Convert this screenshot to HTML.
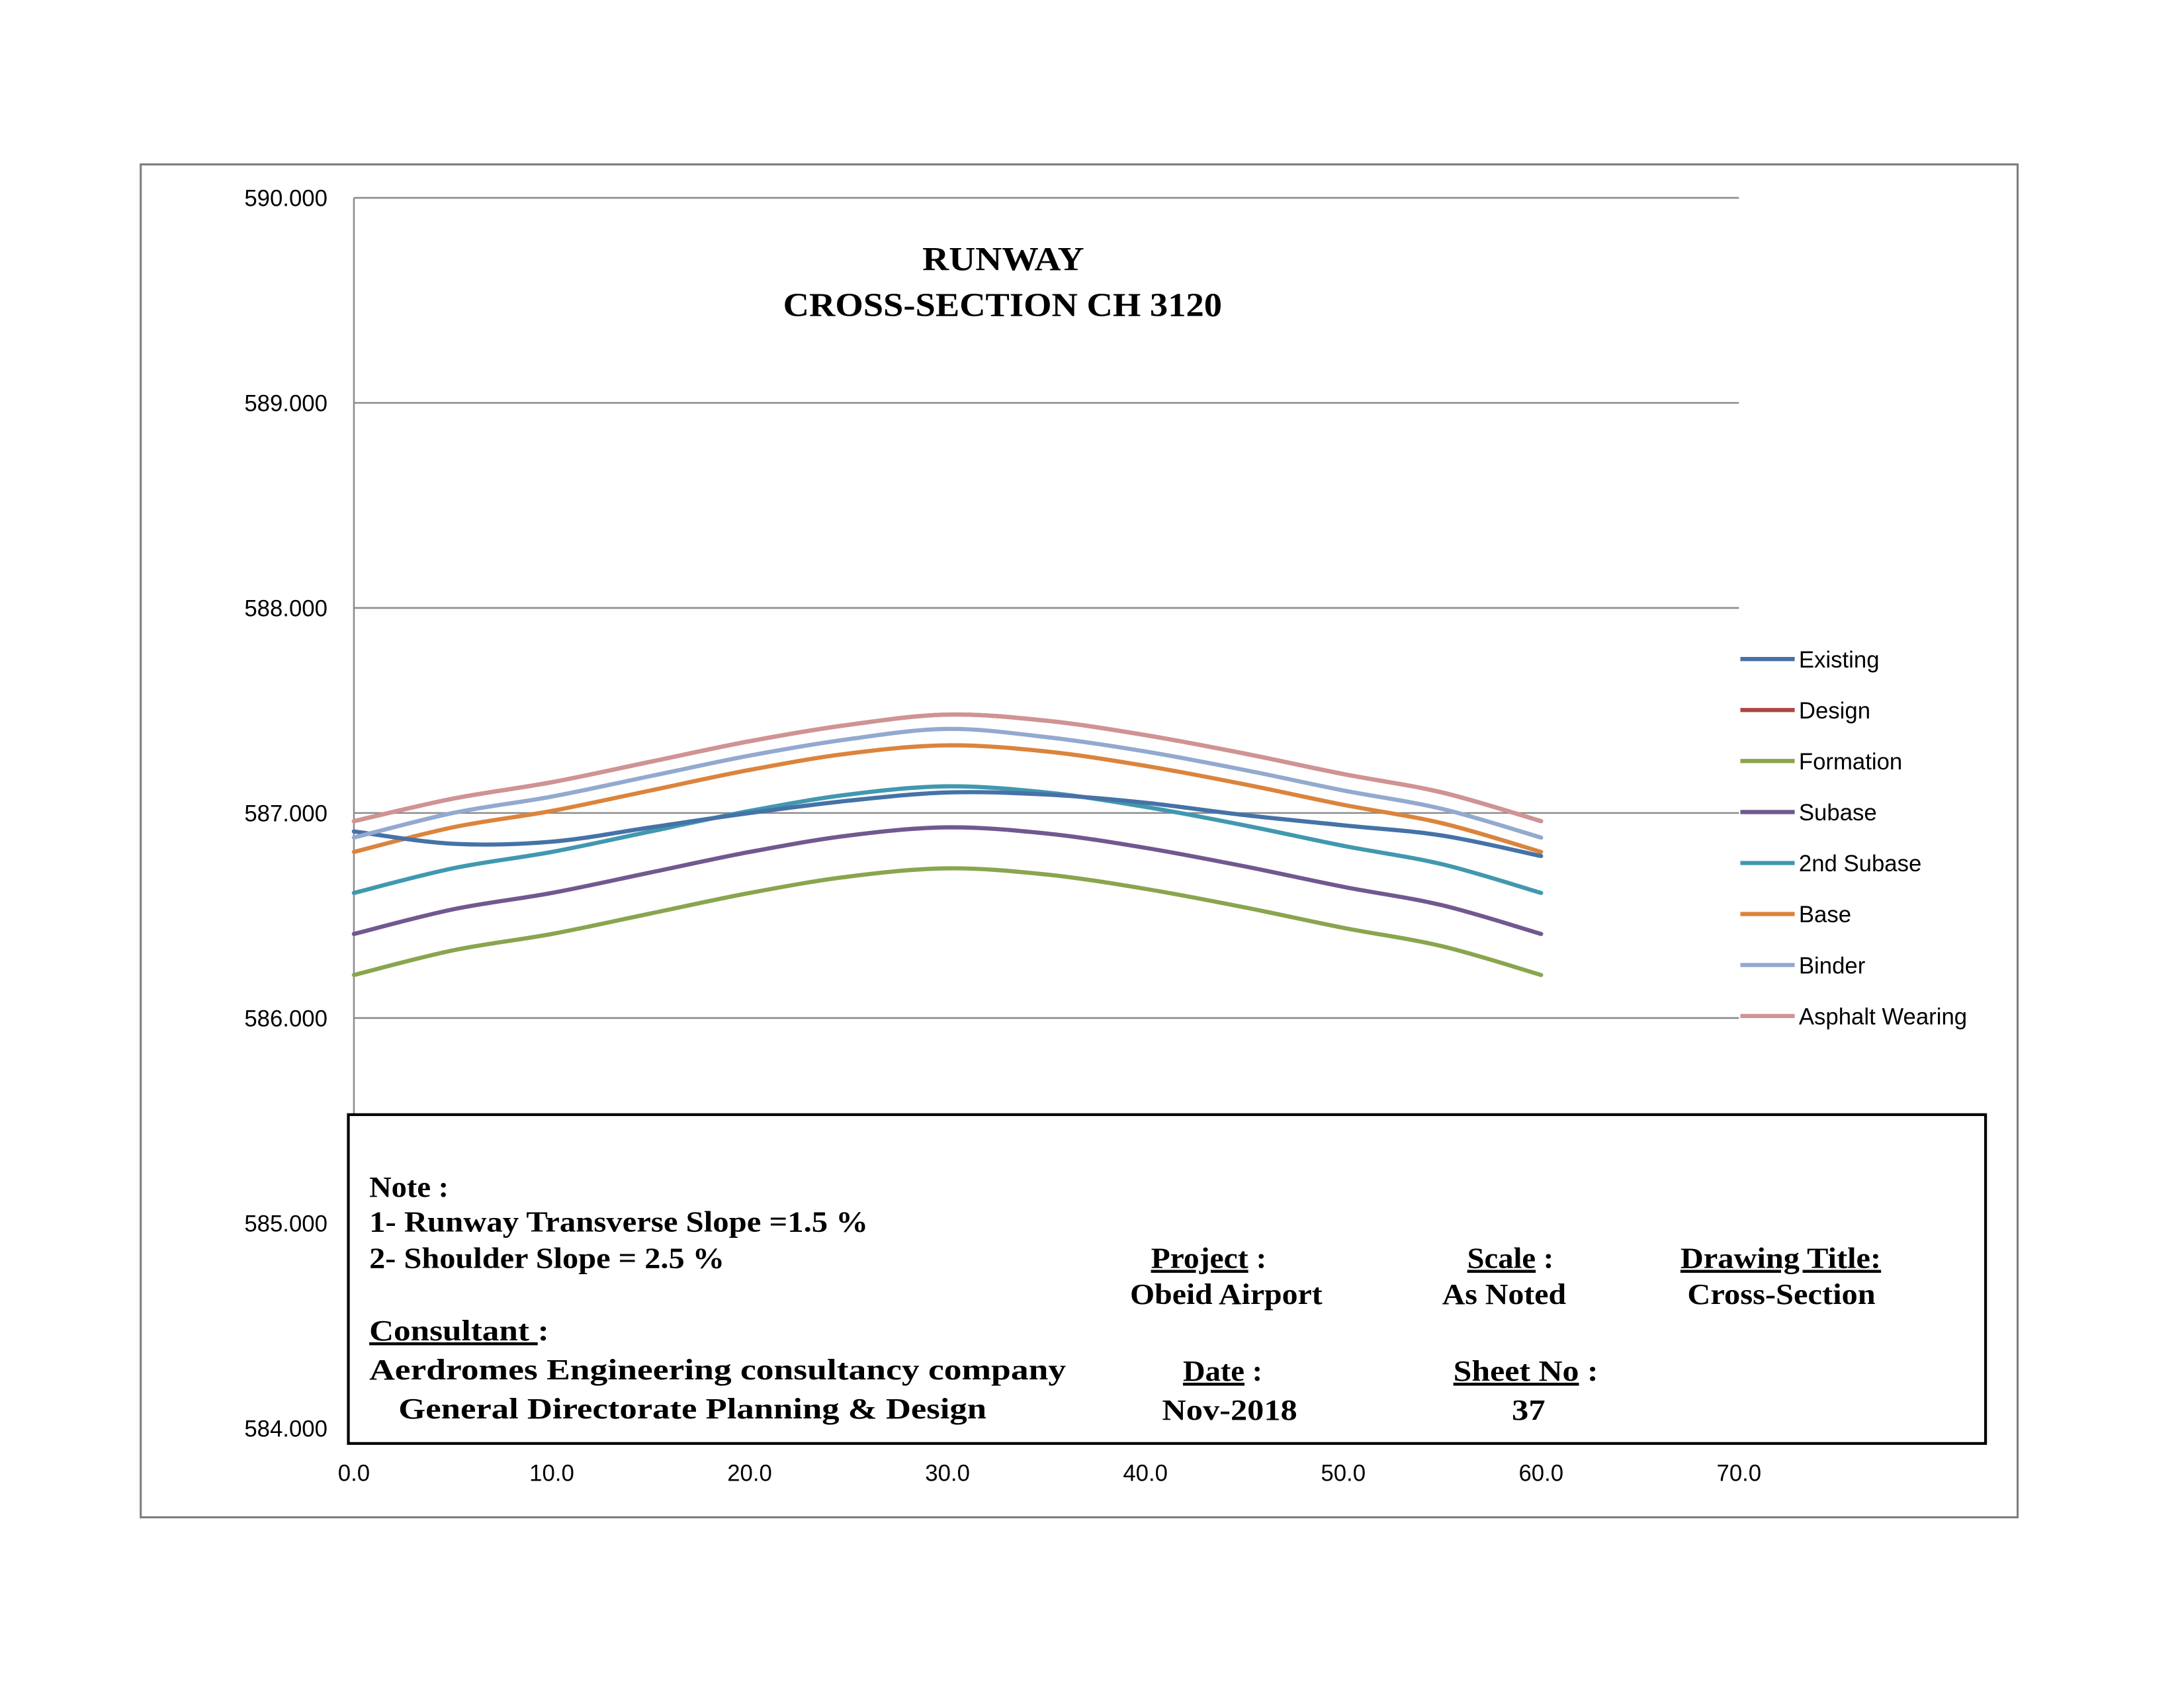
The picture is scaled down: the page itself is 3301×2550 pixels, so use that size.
<!DOCTYPE html>
<html><head><meta charset="utf-8"><style>
html,body{margin:0;padding:0;background:#fff;}
svg{display:block;}
.t{font-family:"Liberation Sans",sans-serif;font-size:16.5px;fill:#000;}
.s{font-family:"Liberation Serif",serif;font-weight:bold;fill:#000;}
</style></head><body>
<svg id="chart" width="3301" height="2550" viewBox="0 0 1567.4 1210.8" xmlns="http://www.w3.org/2000/svg">
<rect x="101" y="118" width="1347" height="971" fill="#fff" stroke="#7f7f7f" stroke-width="1.5"/>
<g id="grid"></g>
<g id="series"></g>
<g id="legend"></g>
<text class="s" x="662" y="194" font-size="24" textLength="116" lengthAdjust="spacingAndGlyphs">RUNWAY</text>
<text class="s" x="562" y="227" font-size="24" textLength="315" lengthAdjust="spacingAndGlyphs">CROSS-SECTION CH 3120</text>
<g>
<rect x="250" y="800" width="1175" height="236" fill="#fff" stroke="#000" stroke-width="2"/>
<g class="s" font-size="21">
<text x="265" y="859" textLength="57" lengthAdjust="spacingAndGlyphs">Note :</text>
<text x="265" y="884" textLength="358" lengthAdjust="spacingAndGlyphs">1- Runway Transverse Slope =1.5 %</text>
<text x="265" y="910" textLength="255" lengthAdjust="spacingAndGlyphs">2- Shoulder Slope = 2.5 %</text>
<text x="265" y="962" textLength="129" lengthAdjust="spacingAndGlyphs"><tspan text-decoration="underline">Consultant </tspan>:</text>
<text x="265" y="990" textLength="500" lengthAdjust="spacingAndGlyphs">Aerdromes Engineering consultancy company</text>
<text x="286" y="1018" textLength="422" lengthAdjust="spacingAndGlyphs">General Directorate Planning &amp; Design</text>
<text x="826" y="910" textLength="83" lengthAdjust="spacingAndGlyphs"><tspan text-decoration="underline">Project</tspan> :</text>
<text x="811" y="936" textLength="138" lengthAdjust="spacingAndGlyphs">Obeid Airport</text>
<text x="1053" y="910" textLength="62" lengthAdjust="spacingAndGlyphs"><tspan text-decoration="underline">Scale</tspan> :</text>
<text x="1035" y="936" textLength="89" lengthAdjust="spacingAndGlyphs">As Noted</text>
<text x="1206" y="910" textLength="144" lengthAdjust="spacingAndGlyphs"><tspan text-decoration="underline">Drawing Title:</tspan></text>
<text x="1211" y="936" textLength="135" lengthAdjust="spacingAndGlyphs">Cross-Section</text>
<text x="849" y="991" textLength="57" lengthAdjust="spacingAndGlyphs"><tspan text-decoration="underline">Date</tspan> :</text>
<text x="834" y="1019" textLength="97" lengthAdjust="spacingAndGlyphs">Nov-2018</text>
<text x="1043" y="991" textLength="104" lengthAdjust="spacingAndGlyphs"><tspan text-decoration="underline">Sheet No</tspan>  :</text>
<text x="1085" y="1019" textLength="24" lengthAdjust="spacingAndGlyphs">37</text>
</g>
</g>
<g id="xlabels"></g>
</svg>
<script>
const NS="http://www.w3.org/2000/svg";
const chainage=[0,5,10,15,20,25,30,35,40,45,50,55,60];
const existing=[586.91,586.85,586.86,586.93,587.00,587.06,587.10,587.09,587.05,586.99,586.94,586.89,586.79];
const formation=[586.21,586.33,586.41,586.51,586.61,586.69,586.73,586.70,586.63,586.54,586.44,586.35,586.21];
const subase=[586.41,586.53,586.61,586.71,586.81,586.89,586.93,586.90,586.83,586.74,586.64,586.55,586.41];
const subase2=[586.61,586.73,586.81,586.91,587.01,587.09,587.13,587.10,587.03,586.94,586.84,586.75,586.61];
const base=[586.81,586.93,587.01,587.11,587.21,587.29,587.33,587.30,587.23,587.14,587.04,586.95,586.81];
const binder=[586.88,587.00,587.08,587.18,587.28,587.36,587.41,587.37,587.30,587.21,587.11,587.02,586.88];
const asphalt=[586.96,587.07,587.15,587.25,587.35,587.43,587.48,587.45,587.38,587.29,587.19,587.10,586.96];
const design=asphalt.slice();
const yTicks=[584,585,586,587,588,589,590];
const xTicks=[0,10,20,30,40,50,60,70];
const seriesNames=["Existing","Design","Formation","Subase","2nd Subase","Base","Binder","Asphalt Wearing"];
const seriesColors=["#4572a7","#aa4643","#89a54e","#71588f","#4198af","#db843d","#93a9cf","#d09393"];
const seriesData=[existing,design,formation,subase,subase2,base,binder,asphalt];
const X=v=>254+(v-0)*(1248-254)/70;
const Y=v=>1025-(v-584)*(1025-142)/6;
const grid=document.getElementById('grid');
function mk(tag,attrs,parent){const e=document.createElementNS(NS,tag);for(const k in attrs)e.setAttribute(k,attrs[k]);parent.appendChild(e);return e;}
yTicks.forEach(t=>{
  if(t>=586){const l=mk('line',{x1:254,x2:1248,y1:Y(t),y2:Y(t),stroke:'#8c8c8c','stroke-width':1.2},grid);
  
  }
  const tx=mk('text',{x:235,y:Y(t)+6,'text-anchor':'end',class:'t'},grid);tx.textContent=t.toFixed(3);
  
  
});
const ax=mk('line',{x1:254,x2:254,y1:142,y2:1025,stroke:'#8c8c8c','stroke-width':1.2},grid);


const xl=document.getElementById('xlabels');
xTicks.forEach(t=>{const tx=mk('text',{x:X(t),y:1063,'text-anchor':'middle',class:'t'},xl);tx.textContent=t.toFixed(1);
  
  });
function smooth(pts){let d=`M${pts[0][0]},${pts[0][1]}`;for(let i=0;i<pts.length-1;i++){const p0=pts[i-1]||pts[i],p1=pts[i],p2=pts[i+1],p3=pts[i+2]||p2;
  d+=` C${p1[0]+(p2[0]-p0[0])/6},${p1[1]+(p2[1]-p0[1])/6} ${p2[0]-(p3[0]-p1[0])/6},${p2[1]-(p3[1]-p1[1])/6} ${p2[0]},${p2[1]}`;}return d;}
const sg=document.getElementById('series');
const lg=document.getElementById('legend');
const order=[2,3,4,5,0,1,6,7];
order.forEach(i=>{const pts=chainage.map((c,j)=>[X(c),Y(seriesData[i][j])]);
  const p=mk('path',{d:smooth(pts),fill:'none',stroke:seriesColors[i],'stroke-width':3,'stroke-linecap':'round'},sg);
  
  });
seriesNames.forEach((n,i)=>{const y=473+i*36.6;
  const l=mk('line',{x1:1249,x2:1288,y1:y,y2:y,stroke:seriesColors[i],'stroke-width':3},lg);
  
  
  const tx=mk('text',{x:1291,y:y+6,class:'t'},lg);tx.textContent=n;
  
  });
</script>
</body></html>
